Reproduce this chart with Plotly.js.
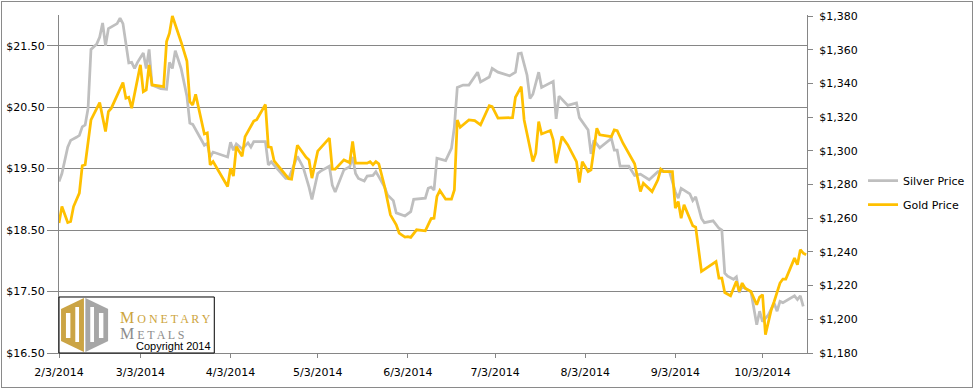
<!DOCTYPE html>
<html><head><meta charset="utf-8">
<script src="https://cdn.plot.ly/plotly-3.0.1.min.js"></script>
<style>
html,body{margin:0;padding:0;background:#fff;}
#wrap{position:relative;width:974px;height:389px;}
#chart{position:absolute;left:0;top:0;width:974px;height:389px;}
#frame{position:absolute;left:1px;top:1px;width:970px;height:385px;border:1px solid #8a8a8a;pointer-events:none;}
</style></head>
<body>
<div id="wrap"><div id="chart"></div><div id="frame"></div></div>
<script>
const silverDates = ['2014-02-03','2014-02-04','2014-02-06','2014-02-07','2014-02-09','2014-02-10','2014-02-11','2014-02-12','2014-02-13','2014-02-14','2014-02-16','2014-02-17','2014-02-18','2014-02-19','2014-02-20','2014-02-23','2014-02-24','2014-02-25','2014-02-27','2014-02-28','2014-03-01','2014-03-02','2014-03-04','2014-03-05','2014-03-06','2014-03-07','2014-03-10','2014-03-12','2014-03-13','2014-03-14','2014-03-15','2014-03-17','2014-03-19','2014-03-20','2014-03-21','2014-03-24','2014-03-25','2014-03-26','2014-03-27','2014-03-28','2014-04-02','2014-04-03','2014-04-04','2014-04-05','2014-04-07','2014-04-09','2014-04-10','2014-04-11','2014-04-15','2014-04-16','2014-04-17','2014-04-22','2014-04-23','2014-04-26','2014-04-28','2014-04-30','2014-05-01','2014-05-03','2014-05-04','2014-05-07','2014-05-08','2014-05-09','2014-05-12','2014-05-14','2014-05-15','2014-05-16','2014-05-17','2014-05-19','2014-05-20','2014-05-22','2014-05-23','2014-05-24','2014-05-26','2014-05-27','2014-05-29','2014-05-30','2014-06-02','2014-06-04','2014-06-05','2014-06-09','2014-06-10','2014-06-11','2014-06-12','2014-06-13','2014-06-16','2014-06-18','2014-06-19','2014-06-20','2014-06-22','2014-06-24','2014-06-27','2014-06-28','2014-07-01','2014-07-02','2014-07-04','2014-07-08','2014-07-10','2014-07-11','2014-07-12','2014-07-14','2014-07-15','2014-07-16','2014-07-18','2014-07-19','2014-07-23','2014-07-24','2014-07-25','2014-07-28','2014-07-31','2014-08-01','2014-08-04','2014-08-05','2014-08-06','2014-08-08','2014-08-12','2014-08-13','2014-08-14','2014-08-15','2014-08-18','2014-08-20','2014-08-22','2014-08-25','2014-08-28','2014-09-01','2014-09-03','2014-09-04','2014-09-05','2014-09-08','2014-09-09','2014-09-10','2014-09-12','2014-09-13','2014-09-16','2014-09-18','2014-09-19','2014-09-20','2014-09-21','2014-09-23','2014-09-24','2014-09-25','2014-09-26','2014-09-28','2014-09-29','2014-10-01','2014-10-02','2014-10-03','2014-10-05','2014-10-07','2014-10-08','2014-10-09','2014-10-10','2014-10-14','2014-10-15','2014-10-16','2014-10-17'];
const silverPrices = [19.29,19.42,19.85,19.96,20.01,20.04,20.18,20.21,20.48,21.44,21.53,21.64,21.87,21.50,21.78,21.86,21.95,21.86,21.22,21.23,21.13,21.23,21.38,21.13,21.44,20.86,20.80,20.79,21.23,21.13,21.42,21.13,20.68,20.24,20.22,19.95,19.88,19.91,19.69,19.77,19.69,19.93,19.80,19.90,19.82,19.92,19.85,19.94,19.94,19.56,19.61,19.34,19.34,19.70,19.52,19.20,19.00,19.42,19.46,19.54,19.23,19.12,19.48,19.53,19.69,19.42,19.34,19.30,19.38,19.39,19.45,19.37,19.20,19.07,18.98,18.78,18.73,18.80,19.00,19.02,19.18,19.20,19.15,19.67,19.63,19.83,20.18,20.82,20.86,20.86,21.07,20.91,20.99,21.13,21.07,21.01,21.07,21.37,21.38,21.02,20.64,20.71,21.07,20.82,20.92,20.31,20.68,20.53,20.57,20.33,20.13,19.74,19.96,19.84,19.99,19.80,19.80,19.54,19.54,19.39,19.41,19.32,19.45,19.45,19.12,19.02,19.18,19.09,18.98,19.04,18.69,18.62,18.65,18.53,18.50,17.80,17.75,17.70,17.74,17.48,17.59,17.52,17.50,16.96,17.18,17.01,17.12,17.31,17.18,17.34,17.32,17.43,17.37,17.43,17.26];

const goldDates = ['2014-02-03','2014-02-04','2014-02-06','2014-02-07','2014-02-08','2014-02-10','2014-02-11','2014-02-12','2014-02-14','2014-02-17','2014-02-19','2014-02-20','2014-02-21','2014-02-25','2014-02-26','2014-02-27','2014-02-28','2014-03-03','2014-03-04','2014-03-05','2014-03-06','2014-03-07','2014-03-11','2014-03-12','2014-03-13','2014-03-14','2014-03-17','2014-03-19','2014-03-20','2014-03-21','2014-03-22','2014-03-25','2014-03-26','2014-03-27','2014-03-28','2014-04-02','2014-04-03','2014-04-04','2014-04-05','2014-04-07','2014-04-08','2014-04-11','2014-04-12','2014-04-15','2014-04-16','2014-04-17','2014-04-18','2014-04-23','2014-04-24','2014-04-26','2014-04-29','2014-04-30','2014-05-01','2014-05-03','2014-05-07','2014-05-08','2014-05-09','2014-05-12','2014-05-14','2014-05-15','2014-05-16','2014-05-20','2014-05-21','2014-05-22','2014-05-23','2014-05-24','2014-05-26','2014-05-28','2014-05-30','2014-05-31','2014-06-02','2014-06-03','2014-06-04','2014-06-06','2014-06-09','2014-06-11','2014-06-12','2014-06-13','2014-06-14','2014-06-16','2014-06-18','2014-06-19','2014-06-20','2014-06-21','2014-06-24','2014-06-26','2014-06-28','2014-07-01','2014-07-02','2014-07-04','2014-07-09','2014-07-10','2014-07-12','2014-07-13','2014-07-16','2014-07-17','2014-07-18','2014-07-19','2014-07-22','2014-07-23','2014-07-24','2014-07-26','2014-07-28','2014-07-30','2014-07-31','2014-08-01','2014-08-02','2014-08-04','2014-08-05','2014-08-07','2014-08-08','2014-08-12','2014-08-13','2014-08-14','2014-08-16','2014-08-20','2014-08-22','2014-08-23','2014-08-26','2014-08-28','2014-08-29','2014-08-30','2014-09-02','2014-09-03','2014-09-04','2014-09-05','2014-09-06','2014-09-09','2014-09-10','2014-09-12','2014-09-17','2014-09-18','2014-09-19','2014-09-20','2014-09-22','2014-09-24','2014-09-25','2014-09-26','2014-09-27','2014-09-29','2014-10-01','2014-10-02','2014-10-03','2014-10-04','2014-10-06','2014-10-07','2014-10-09','2014-10-10','2014-10-11','2014-10-14','2014-10-15','2014-10-16','2014-10-17','2014-10-18'];
const goldPrices = [1257.1,1266.9,1257.4,1258.0,1266.9,1274.9,1291.1,1291.7,1318.3,1328.6,1311.4,1323.3,1325.3,1340.5,1331.2,1331.8,1325.3,1351.0,1335.1,1336.1,1351.0,1339.1,1338.1,1364.8,1369.8,1380.0,1364.6,1353.3,1329.2,1327.2,1333.5,1310.0,1310.6,1291.7,1293.6,1278.8,1289.7,1285.0,1302.5,1296.8,1308.4,1317.6,1318.5,1327.5,1302.3,1302.0,1294.0,1283.5,1283.2,1303.3,1296.1,1294.6,1283.8,1299.8,1307.5,1289.1,1289.1,1294.6,1293.0,1305.5,1292.7,1292.7,1293.6,1291.7,1293.6,1292.3,1278.8,1262.0,1256.1,1251.2,1248.8,1249.1,1248.6,1253.1,1252.5,1259.8,1260.0,1272.9,1276.4,1271.3,1271.3,1276.8,1318.3,1314.0,1318.3,1317.9,1315.4,1326.8,1326.2,1319.4,1319.7,1331.8,1338.1,1318.3,1293.6,1298.6,1317.3,1310.0,1312.0,1306.5,1292.7,1308.4,1303.5,1296.6,1293.6,1281.2,1293.6,1287.7,1288.7,1313.4,1309.5,1308.4,1312.4,1312.0,1304.5,1292.3,1275.8,1280.8,1275.8,1282.8,1289.1,1287.7,1287.7,1266.0,1269.9,1260.0,1267.9,1255.5,1254.7,1228.4,1234.3,1224.5,1224.5,1215.9,1214.0,1222.5,1216.5,1221.5,1218.5,1216.5,1208.6,1213.2,1214.6,1190.9,1205.7,1210.6,1221.5,1223.9,1223.9,1236.3,1232.4,1241.3,1239.3,1238.3];

const xTickDates = ['2014-02-03','2014-03-03','2014-04-03','2014-05-03','2014-06-03','2014-07-03','2014-08-03','2014-09-03','2014-10-03'];
const xTickLabels = ['2/3/2014','3/3/2014','4/3/2014','5/3/2014','6/3/2014','7/3/2014','8/3/2014','9/3/2014','10/3/2014'];
const silverTicks = [16.5,17.5,18.5,19.5,20.5,21.5];
const silverTickLabels = ['$16.50','$17.50','$18.50','$19.50','$20.50','$21.50'];
const goldTicks = [1180,1200,1220,1240,1260,1280,1300,1320,1340,1360,1380];
const goldTickLabels = ['$1,180','$1,200','$1,220','$1,240','$1,260','$1,280','$1,300','$1,320','$1,340','$1,360','$1,380'];
const seriesNames = ['Silver Price','Gold Price'];

const GRID = '#868686';
const logoSvg = "<svg xmlns='http://www.w3.org/2000/svg' viewBox='0 0 48 54' width='48' height='54'>" +
  "<polygon points='23.3,0 0,11 0,43 23.3,54' fill='#CBA444'/>" +
  "<polygon points='24.7,0 48,11 48,43 24.7,54' fill='#A6A6A6'/>" +
  "<rect x='5' y='15' width='4.5' height='25' fill='#fff'/>" +
  "<rect x='14.5' y='9' width='3.8' height='35' fill='#fff'/>" +
  "<rect x='29.7' y='9' width='3.8' height='35' fill='#fff'/>" +
  "<rect x='38.5' y='15' width='4.5' height='25' fill='#fff'/>" +
  "</svg>";

const traces = [
  {x: silverDates, y: silverPrices, name: seriesNames[0], type: 'scatter', mode: 'lines',
   line: {color: '#BFBFBF', width: 2.75}, yaxis: 'y', legendgroup: 'a'},
  {x: goldDates, y: goldPrices, name: seriesNames[1], type: 'scatter', mode: 'lines',
   line: {color: '#FFC000', width: 2.75}, yaxis: 'y2', legendgroup: 'b'}
];

const TF = {family: 'DejaVu Sans', size: 11, color: '#000'};
const layout = {
  width: 974, height: 389,
  margin: {l: 59, r: 167, t: 15, b: 36, pad: 0, autoexpand: false},
  paper_bgcolor: '#ffffff', plot_bgcolor: '#ffffff',
  font: TF,
  showlegend: true,
  legend: {x: 1.0749, y: 0.5527, xanchor: 'left', yanchor: 'top', bgcolor: 'rgba(0,0,0,0)',
           font: TF, traceorder: 'grouped', tracegroupgap: 5},
  xaxis: {type: 'date', range: ['2014-02-03', '2014-10-18 07:00'], tickmode: 'array',
          tickvals: xTickDates, ticktext: xTickLabels, ticks: 'outside', ticklen: 4, tickcolor: GRID,
          showline: true, linecolor: GRID, linewidth: 1, showgrid: false, zeroline: false,
          ticklabelstandoff: 5, tickfont: TF, automargin: false},
  yaxis: {range: [16.5, 22], tickmode: 'array', tickvals: silverTicks, ticktext: silverTickLabels,
          ticks: 'outside', ticklen: 11, tickcolor: GRID, showline: true, linecolor: GRID, linewidth: 1,
          showgrid: true, gridcolor: GRID, gridwidth: 1, zeroline: false, ticklabelstandoff: 0,
          tickfont: TF, automargin: false},
  yaxis2: {range: [1180, 1380.6], overlaying: 'y', side: 'right', tickmode: 'array', tickvals: goldTicks,
           ticktext: goldTickLabels, ticks: 'outside', ticklen: 5, tickcolor: GRID,
           showline: true, linecolor: GRID, linewidth: 1, showgrid: false, zeroline: false, ticklabelstandoff: 4,
           tickfont: TF, automargin: false},
  shapes: [
    {type: 'rect', xref: 'paper', yref: 'paper', x0: 0, x1: 0.2076, y0: 0, y1: 0.1657,
     line: {color: '#000', width: 1}, fillcolor: 'rgba(0,0,0,0)', layer: 'above'}
  ],
  images: [
    {source: 'data:image/svg+xml;utf8,' + encodeURIComponent(logoSvg), xref: 'paper', yref: 'paper',
     x: 0.0027, y: 0.1627, sizex: 0.0632, sizey: 0.1598, sizing: 'stretch', xanchor: 'left', yanchor: 'top', layer: 'above'}
  ],
  annotations: [
    {xref: 'paper', yref: 'paper', x: 0.0793, y: 0.0822, xanchor: 'left', yanchor: 'middle', showarrow: false,
     align: 'left',
     text: '<span style="font-size:16px">M</span> O N E T A R Y<br><span style="font-size:16px;color:#8C8C8C">M</span><span style="color:#8C8C8C"> E T A L S</span>',
     font: {family: 'Liberation Serif', size: 12, color: '#CDA43C'}},
    {xref: 'paper', yref: 'paper', x: 0.1533, y: 0.0200, xanchor: 'center', yanchor: 'middle', showarrow: false,
     text: 'Copyright 2014', font: {family: 'Liberation Sans', size: 11, color: '#000'}}
  ]
};

Plotly.newPlot('chart', traces, layout, {staticPlot: true, displayModeBar: false});
</script>
</body></html>
